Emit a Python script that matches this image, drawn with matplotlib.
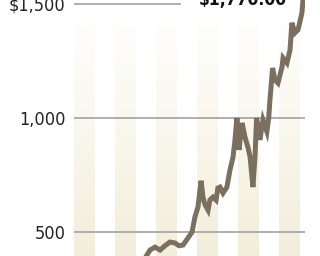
import numpy as np
import matplotlib.pyplot as plt
from matplotlib.colors import LinearSegmentedColormap

# gold price (years as fractions)
years = [2000.0, 2001.0, 2002.0, 2003.0, 2003.46, 2003.71, 2003.95, 2004.20, 2004.44,
         2004.68, 2004.93, 2005.12, 2005.32, 2005.56, 2005.76, 2005.90, 2006.05,
         2006.20, 2006.29, 2006.39, 2006.54, 2006.63, 2006.78, 2006.93, 2007.02,
         2007.12, 2007.27, 2007.46, 2007.61, 2007.76, 2007.85, 2007.95, 2008.05,
         2008.20, 2008.34, 2008.49, 2008.59, 2008.73, 2008.83, 2008.91, 2008.98,
         2009.07, 2009.22, 2009.41, 2009.50, 2009.56, 2009.69, 2009.80, 2009.95,
         2010.15, 2010.20, 2010.39, 2010.54, 2010.63, 2010.78, 2010.93, 2011.12,
         2011.17, 2011.27, 2011.32]
prices = [285, 270, 300, 350, 385, 421, 434, 421, 440,
          456, 452, 440, 443, 474, 500, 566, 610,
          725, 653, 620, 596, 640, 653, 640, 693,
          697, 671, 697, 772, 829, 900, 1000, 860,
          978, 917, 870, 829, 697, 829, 1000, 960,
          904, 991, 940, 1000, 1079, 1219, 1167, 1153,
          1224, 1263, 1241, 1298, 1417, 1373, 1386, 1460,
          1517, 1600, 1770]

stripe_years = [2000, 2002, 2004, 2006, 2008, 2010]
grid_values = [500, 1000, 1500]
grid_labels = ['500', '1,000', '$1,500']
last_label = '$1,770.00'

fig = plt.figure(figsize=(3.2, 2.56), dpi=100)
ax = fig.add_axes([74 / 320, 0, 231 / 320, 1])
ax.set_xlim(2000, 2011.27)
ax.set_ylim(395, 1517)

# stripes fade out towards the top
beige = LinearSegmentedColormap.from_list('beige', ['#fffefb', '#f3eedc'])
grad = np.linspace(1, 0, 64).reshape(-1, 1)
for y in stripe_years:
    ax.imshow(grad, extent=(y, y + 0.98, 395, 1420), cmap=beige, aspect='auto',
              origin='lower', vmin=0, vmax=1, zorder=0)

for v in grid_values:
    xmax = 0.459 if v == 1500 else 1.0
    ax.axhline(v, xmin=0, xmax=xmax, color='#a8a8a8', lw=1.3, zorder=1)

ax.plot(years, prices, color='#7b705f', lw=3.6, solid_joinstyle='miter', zorder=2)

ax.text(0.541, 1496, last_label, transform=ax.get_yaxis_transform(),
        fontsize=12.5, fontweight='bold', family='DejaVu Sans', stretch='condensed',
        color='#111111', va='baseline', ha='left')

ax.set_yticks(grid_values)
ax.set_yticklabels(grid_labels, family='DejaVu Sans', stretch='condensed',
                   fontsize=13, color='#222222')
ax.tick_params(axis='y', length=0, pad=6)
ax.set_xticks([])
for s in ax.spines.values():
    s.set_visible(False)

fig.savefig('out.png', dpi=100)
